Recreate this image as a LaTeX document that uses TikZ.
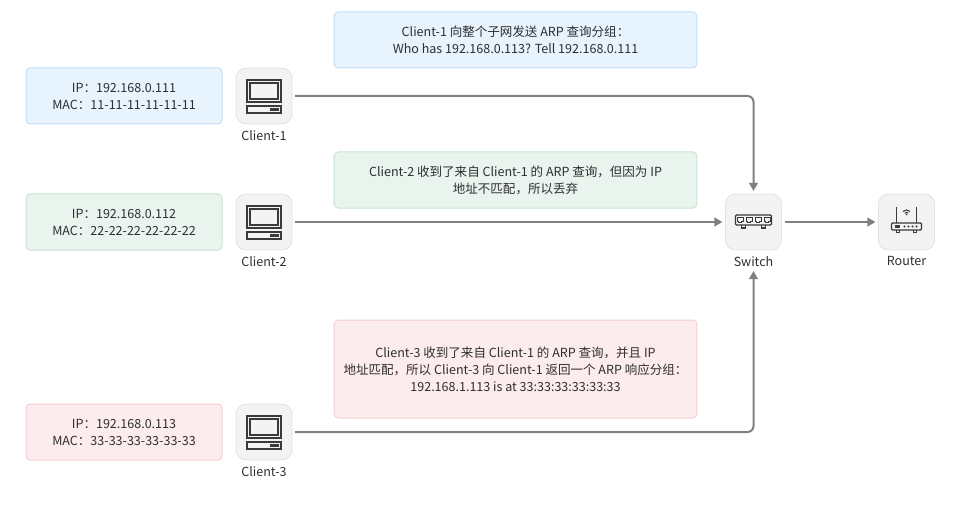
\documentclass[tikz,border=0pt]{standalone}
\usepackage{fontspec}
\setmainfont{Noto Sans CJK SC}
\usepackage{tikz}
\usetikzlibrary{positioning}
\usetikzlibrary{arrows.meta}
\definecolor{txt}{HTML}{2F2F2F}
\definecolor{icon}{HTML}{3A3A3A}
\definecolor{wire}{HTML}{808080}
\definecolor{bluefill}{HTML}{E7F3FD}
\definecolor{blueline}{HTML}{C4DFF6}
\definecolor{greenfill}{HTML}{E9F4EE}
\definecolor{greenline}{HTML}{C9E4D1}
\definecolor{redfill}{HTML}{FDECEE}
\definecolor{redline}{HTML}{F4D0D4}
\definecolor{devfill}{HTML}{F3F3F4}
\definecolor{devline}{HTML}{E2E2E4}
\tikzset{
  every node/.style={text=txt, font=\fontsize{9.4}{12.75}\selectfont},
  infobox/.style={rounded corners=3pt, line width=0.75pt, align=center,
    minimum width=147pt, minimum height=42pt, inner sep=0pt},
  msgbox/.style={infobox, minimum width=272pt},
  devbox/.style={rounded corners=7.5pt, draw=devline, fill=devfill,
    line width=0.6pt, minimum width=42pt, minimum height=42pt, inner sep=0pt},
  lbl/.style={inner sep=1pt},
  wireline/.style={draw=wire, line width=1.5pt, rounded corners=4.5pt,
    -{Triangle[length=6pt,width=6.5pt]}, shorten <=2pt, shorten >=2pt},
  pc/.pic={
    \draw[icon, line width=0.9pt] (-17,-16) rectangle (17,6);
    \draw[icon, line width=0.9pt] (-14,-13) rectangle (14,3);
    \draw[icon, line width=0.9pt] (-17,10) rectangle (17,17);
    \fill[icon] (6,12.3) rectangle (15,14.7);
  },
  switchicon/.pic={
    \draw[icon, line width=0.9pt, rounded corners=0.8pt] (-18,-7) rectangle (18,3);
    \foreach \px in {-13.5,-4.5,4.5,13.5}{
      \draw[icon, line width=0.7pt] (\px-3,-5) -- (\px+3,-5) -- (\px+3,-1)
        -- (\px+1.5,-1) -- (\px+1.5,0.5) -- (\px-1.5,0.5) -- (\px-1.5,-1)
        -- (\px-3,-1) -- cycle;
    }
    \draw[icon, line width=0.9pt] (-12,3) -- (-12,6) -- (-8,6) -- (-8,3);
    \draw[icon, line width=0.9pt] (8,3) -- (8,6) -- (12,6) -- (12,3);
  },
  routericon/.pic={
    \draw[icon, line width=0.9pt, rounded corners=0.8pt] (-15,1) rectangle (15,8);
    \draw[icon, line width=0.9pt] (-10,1) -- (-10,-15);
    \draw[icon, line width=0.9pt] (10,1) -- (10,-15);
    \draw[icon, line width=0.8pt] (225:2.5) ++(0,-7) arc (225:315:2.5);
    \draw[icon, line width=0.8pt] (225:5) ++(0,-7) arc (225:315:5);
    \fill[icon] (0,-7.5) circle (0.9);
    \fill[icon] (-12,3.2) rectangle (-7,5.8);
    \foreach \px in {-2,2,6,10}{ \fill[icon] (\px,4.5) circle (1.1); }
    \draw[icon, line width=0.9pt] (-10,8) -- (-10,10.5) -- (-7,10.5) -- (-7,8);
    \draw[icon, line width=0.9pt] (7,8) -- (7,10.5) -- (10,10.5) -- (10,8);
  }
}
\begin{document}
\begin{tikzpicture}[x=0.75pt,y=-0.75pt]
	\useasboundingbox (0,0) rectangle (960,506);
	% hosts on the left
	\path (124,96) node(info1)[infobox, draw=blueline, fill=bluefill] {IP：192.168.0.111\\MAC：11-11-11-11-11-11}
		(124,222) node(info2)[infobox, draw=greenline, fill=greenfill] {IP：192.168.0.112\\MAC：22-22-22-22-22-22}
		(124,432) node(info3)[infobox, draw=redline, fill=redfill] {IP：192.168.0.113\\MAC：33-33-33-33-33-33};
	\path (264,96) node(c1)[devbox] {}
		(264,222) node(c2)[devbox] {}
		(264,432) node(c3)[devbox] {}
		(753.5,222) node(sw)[devbox] {}
		(906.5,222) node(rt)[devbox] {};
	\pic at (c1) {pc};
	\pic at (c2) {pc};
	\pic at (c3) {pc};
	\pic at (sw) {switchicon};
	\pic at (rt) {routericon};
	\node[lbl, below=3.5pt of c1] (c1l) {Client-1};
	\node[lbl, below=3.5pt of c2] (c2l) {Client-2};
	\node[lbl, below=3.5pt of c3] (c3l) {Client-3};
	\node[lbl, below=3.5pt of sw] (swl) {Switch};
	\node[lbl, below=3.5pt of rt] (rtl) {Router};
	% messages
	\path (515.5,40) node(msg1)[msgbox, draw=blueline, fill=bluefill] {Client-1 向整个子网发送 ARP 查询分组：\\Who has 192.168.0.113? Tell 192.168.0.111}
		(515.5,180) node(msg2)[msgbox, draw=greenline, fill=greenfill] {Client-2 收到了来自 Client-1 的 ARP 查询，但因为 IP\\地址不匹配，所以丢弃}
		(515.5,369) node(msg3)[msgbox, draw=redline, fill=redfill, minimum height=73.5pt] {Client-3 收到了来自 Client-1 的 ARP 查询，并且 IP\\地址匹配，所以 Client-3 向 Client-1 返回一个 ARP 响应分组：\\192.168.1.113 is at 33:33:33:33:33:33};
	% links
	\draw[wireline] (c1.east) -| (sw.north);
	\draw[wireline] (c2.east) -- (sw.west);
	\draw[wireline] (c3.east) -| (swl.south);
	\draw[wireline] (sw.east) -- (rt.west);
\end{tikzpicture}
\end{document}
